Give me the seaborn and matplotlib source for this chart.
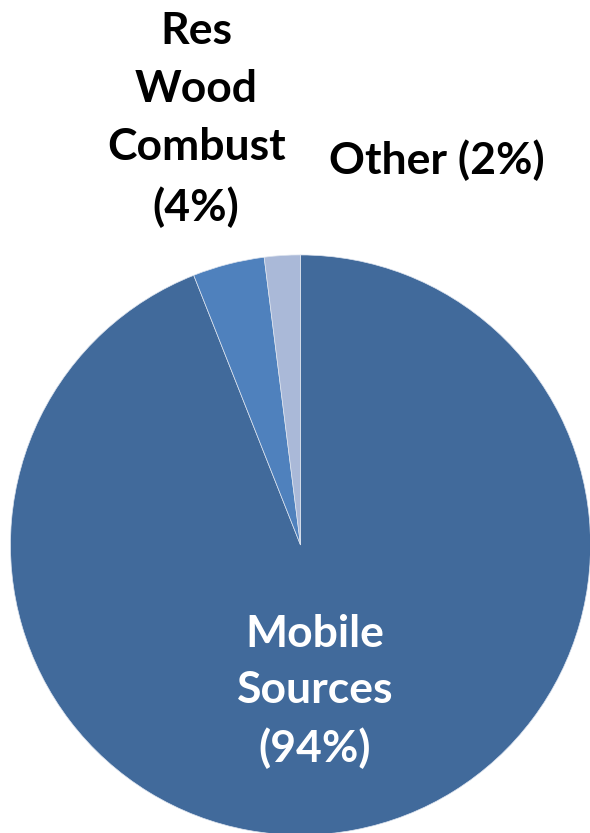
import matplotlib
matplotlib.use("Agg")
import matplotlib.pyplot as plt
import seaborn as sns

sns.set_theme(style="white")
plt.rcParams["font.family"] = ["Lato", "DejaVu Sans"]

# Emission source shares (percent)
categories = ["Mobile Sources", "Res Wood Combust", "Other"]
shares = [94, 4, 2]
label_text = ["Mobile\nSources\n(94%)", "Res\nWood\nCombust\n(4%)", "Other (2%)"]
colors = ["#416A9B", "#4F81BD", "#AAB9D8"]

fig = plt.figure(figsize=(5.9, 8.33), dpi=100)
ax = fig.add_axes([0, 0, 1, 1])

ax.pie(shares, colors=colors, startangle=90, counterclock=False, radius=1.0,
       wedgeprops=dict(edgecolor="#DDE4EF", linewidth=0.5))

ax.set_xlim(-1.036, 0.998)
ax.set_ylim(-0.993, 1.879)
ax.set_aspect("equal")
ax.axis("off")

fs = 32
ax.text(0.05, -0.505, label_text[0], ha="center", va="center", color="white",
        fontsize=fs, fontweight="bold", linespacing=1.5)
ax.text(-0.36, 1.468, label_text[1], ha="center", va="center", color="black",
        fontsize=fs, fontweight="bold", linespacing=1.55)
ax.text(0.471, 1.328, label_text[2], ha="center", va="center", color="black",
        fontsize=fs, fontweight="bold")

fig.savefig("out.png", dpi=100)
